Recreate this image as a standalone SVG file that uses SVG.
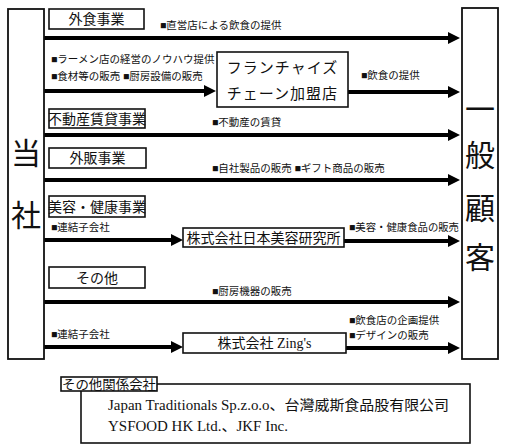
<svg xmlns="http://www.w3.org/2000/svg" width="507" height="448" viewBox="0 0 507 448">
<style>
text{font-family:"Liberation Serif","Noto Sans CJK JP",serif;fill:#111}
.box{fill:#fff;stroke:#111;stroke-width:1.6}
.big{fill:#fff;stroke:#111;stroke-width:1.8}
.lbl{font-size:14px;text-anchor:middle}
.sm{font-size:10.5px}
.huge{font-size:30px;text-anchor:middle}
.arr{stroke:#000;stroke-width:4;fill:none;marker-end:url(#ah)}
</style>
<defs>
<marker id="ah" markerUnits="userSpaceOnUse" viewBox="0 0 12 12" refX="4" refY="6" markerWidth="12" markerHeight="12" orient="auto">
<path d="M0,0 L12,6 L0,12 z" fill="#000"/>
</marker>
</defs>
<g id="connectors">
<path class="arr" d="M44,38 H452"/>
<path class="arr" d="M44,91 H208"/>
<path class="arr" d="M348,92 H452"/>
<path class="arr" d="M44,135 H452"/>
<path class="arr" d="M44,180 H452"/>
<path class="arr" d="M44,240 H175"/>
<path class="arr" d="M344,241 H452"/>
<path class="arr" d="M44,302 H452"/>
<path class="arr" d="M44,347 H175"/>
<path class="arr" d="M346,348 H452"/>
</g>
<g id="labels">
<text class="sm" x="160" y="29">■直営店による飲食の提供</text>
<text class="sm" x="51" y="63">■ラーメン店の経営のノウハウ提供</text>
<text class="sm" x="51" y="80">■食材等の販売 ■厨房設備の販売</text>
<text class="sm" x="361" y="79">■飲食の提供</text>
<text class="sm" x="212" y="126">■不動産の賃貸</text>
<text class="sm" x="212" y="172">■自社製品の販売 ■ギフト商品の販売</text>
<text class="sm" x="51" y="231">■連結子会社</text>
<text class="sm" x="349" y="231" textLength="110" lengthAdjust="spacingAndGlyphs">■美容・健康食品の販売</text>
<text class="sm" x="212" y="295">■厨房機器の販売</text>
<text class="sm" x="349" y="324">■飲食店の企画提供</text>
<text class="sm" x="349" y="339">■デザインの販売</text>
<text class="sm" x="51" y="338">■連結子会社</text>
</g>
<g id="tousha">
<rect class="big" x="8" y="9" width="36" height="350"/>
<text class="huge" x="26" y="164">当</text>
<text class="huge" x="26" y="226">社</text>
</g>
<g id="ippan-kokyaku">
<rect class="big" x="462" y="8" width="36" height="351"/>
<text class="huge" x="480" y="120">一</text>
<text class="huge" x="480" y="166">般</text>
<text class="huge" x="480" y="219">顧</text>
<text class="huge" x="480" y="268">客</text>
</g>
<g id="gaishoku">
<rect class="box" x="49" y="9" width="95" height="20"/>
<text class="lbl" x="96.5" y="24">外食事業</text>
</g>
<g id="franchise">
<rect class="box" x="217" y="52" width="131" height="55"/>
<text class="lbl" x="282.5" y="73" style="font-size:15px;letter-spacing:1px">フランチャイズ</text>
<text class="lbl" x="282.5" y="99" style="font-size:15px;letter-spacing:1px">チェーン加盟店</text>
</g>
<g id="fudosan">
<rect class="box" x="49" y="109" width="96" height="19"/>
<text class="lbl" x="97" y="124">不動産賃貸事業</text>
</g>
<g id="gaihan">
<rect class="box" x="49" y="148" width="97" height="20"/>
<text class="lbl" x="97.5" y="163">外販事業</text>
</g>
<g id="biyou">
<rect class="box" x="49" y="196" width="96" height="21"/>
<text class="lbl" x="97" y="212">美容・健康事業</text>
</g>
<g id="nihon-biyou">
<rect class="box" x="183" y="228" width="161" height="19"/>
<text class="lbl" x="263.5" y="243">株式会社日本美容研究所</text>
</g>
<g id="sonota">
<rect class="box" x="49" y="267" width="96" height="21"/>
<text class="lbl" x="97" y="283">その他</text>
</g>
<g id="zings">
<rect class="box" x="183" y="333" width="163" height="20"/>
<text class="lbl" x="264.5" y="348">株式会社 Zing's</text>
</g>
<g id="kankei">
<rect class="box" x="81" y="384" width="389" height="59"/>
<rect class="box" x="61" y="377" width="96" height="14"/>
<text x="109" y="389" style="font-size:13px;text-anchor:middle" textLength="94" lengthAdjust="spacingAndGlyphs">その他関係会社</text>
<text x="108" y="410" style="font-size:14px" textLength="341" lengthAdjust="spacingAndGlyphs">Japan Traditionals Sp.z.o.o、台灣威斯食品股有限公司</text>
<text x="108" y="431" style="font-size:14px" textLength="180" lengthAdjust="spacingAndGlyphs">YSFOOD HK Ltd.、JKF Inc.</text>
</g>
</svg>
